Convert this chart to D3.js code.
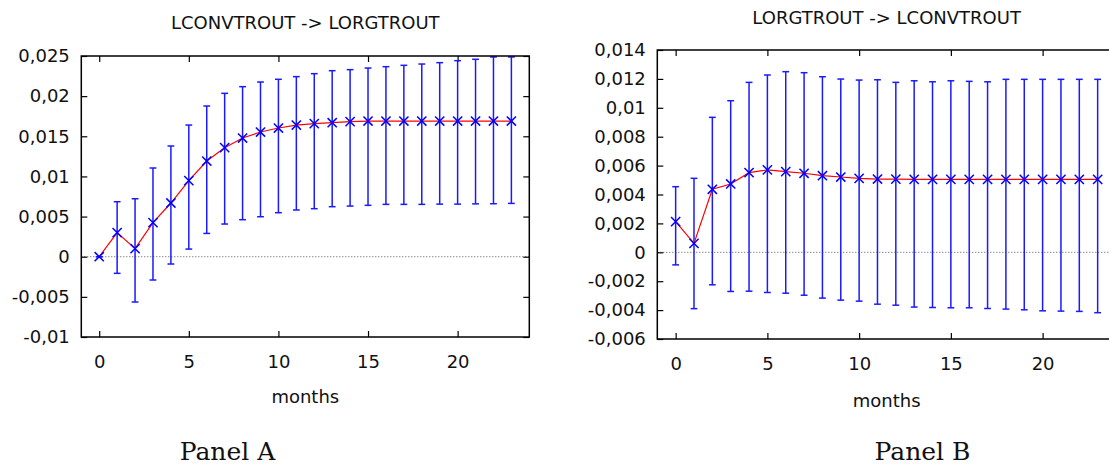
<!DOCTYPE html>
<html>
<head>
<meta charset="utf-8">
<script src="https://cdn.jsdelivr.net/npm/d3@7/dist/d3.min.js"></script>
<style>
  html, body { margin: 0; padding: 0; background: #fff; }
  svg { display: block; }
  text { font-family: "DejaVu Sans", Verdana, sans-serif; fill: #111; }
</style>
</head>
<body>
<svg id="chart" width="1109" height="466"></svg>
<script>
// ---- Data ----
const months = [0,1,2,3,4,5,6,7,8,9,10,11,12,13,14,15,16,17,18,19,20,21,22,23];
const xTickValues = [0, 5, 10, 15, 20];
const xTickLabels = ["0", "5", "10", "15", "20"];

// Panel A: LCONVTROUT -> LORGTROUT
const titleA = "LCONVTROUT -> LORGTROUT";
const responseA = [0, 0.003, 0.001, 0.00424, 0.00669, 0.00947, 0.01192, 0.01358, 0.01478, 0.01553, 0.01603, 0.0164,
                   0.01657, 0.01669, 0.01682, 0.0169, 0.0169, 0.0169, 0.0169, 0.0169, 0.0169, 0.0169, 0.0169, 0.0169];
const upperA = [0, 0.00685, 0.00722, 0.01105, 0.01379, 0.0164, 0.01877, 0.02035, 0.02118, 0.02176, 0.0221, 0.02243,
                0.0228, 0.02317, 0.0233, 0.0235, 0.02367, 0.02384, 0.024, 0.02417, 0.02442, 0.02459, 0.02488, 0.02488];
const lowerA = [0, -0.00207, -0.00564, -0.0029, -0.00091, 0.00095, 0.0029, 0.00407, 0.00461, 0.00498, 0.00548, 0.00582,
                0.00598, 0.00623, 0.00631, 0.0064, 0.00652, 0.00652, 0.00652, 0.00655, 0.00655, 0.00658, 0.0066, 0.00664];
const yTickValuesA = [-0.01, -0.005, 0, 0.005, 0.01, 0.015, 0.02, 0.025];
const yTickLabelsA = ["-0,01", "-0,005", "0", "0,005", "0,01", "0,015", "0,02", "0,025"];

// Panel B: LORGTROUT -> LCONVTROUT
const titleB = "LORGTROUT -> LCONVTROUT";
const responseB = [0.00212, 0.00062, 0.00436, 0.00473, 0.00551, 0.0057, 0.00558, 0.00547, 0.0053, 0.00521, 0.00512, 0.00507,
                   0.00506, 0.00505, 0.00505, 0.00505, 0.00505, 0.00505, 0.00505, 0.00505, 0.00505, 0.00505, 0.00505, 0.00505];
const upperB = [0.00454, 0.00512, 0.00934, 0.01049, 0.01176, 0.01227, 0.0125, 0.01243, 0.01215, 0.01199, 0.01192, 0.01194,
                0.01176, 0.01187, 0.0118, 0.01187, 0.01183, 0.0118, 0.01197, 0.01197, 0.01197, 0.01197, 0.01197, 0.01197];
const lowerB = [-0.00087, -0.0039, -0.00225, -0.00271, -0.00269, -0.00278, -0.00283, -0.00297, -0.00317, -0.00331, -0.00338, -0.00359,
                -0.00366, -0.00379, -0.00382, -0.00384, -0.00384, -0.00389, -0.00393, -0.00398, -0.00405, -0.00407, -0.00409, -0.00418];
const yTickValuesB = [-0.006, -0.004, -0.002, 0, 0.002, 0.004, 0.006, 0.008, 0.01, 0.012, 0.014];
const yTickLabelsB = ["-0,006", "-0,004", "-0,002", "0", "0,002", "0,004", "0,006", "0,008", "0,01", "0,012", "0,014"];

const xLabel = "months";
const panelLabels = ["Panel A", "Panel B"];

// ---- Drawing ----
const svg = d3.select("#chart");

function drawPanel(cfg) {
  const x = d3.scaleLinear().domain([-1, 24]).range([cfg.left, cfg.right]);
  const y = d3.scaleLinear().domain(cfg.yDomain).range([cfg.bottom, cfg.top]);
  const g = svg.append("g");
  const fs = 18;

  // zero line (dotted)
  g.append("line")
    .attr("x1", cfg.left).attr("x2", cfg.right)
    .attr("y1", y(0)).attr("y2", y(0))
    .attr("stroke", "#555").attr("stroke-width", 1)
    .attr("stroke-dasharray", "1,2");

  // axes (inward ticks)
  const fmtY = v => cfg.yLabels[cfg.yTicks.indexOf(v)];
  const fmtX = v => xTickLabels[xTickValues.indexOf(v)];

  const axL = g.append("g").attr("transform", `translate(${cfg.left},0)`)
    .call(d3.axisLeft(y).tickValues(cfg.yTicks).tickFormat(fmtY).tickSizeInner(-6).tickSizeOuter(0).tickPadding(11.5));
  const axR = g.append("g").attr("transform", `translate(${cfg.right},0)`)
    .call(d3.axisRight(y).tickValues(cfg.yTicks).tickFormat("").tickSizeInner(-6).tickSizeOuter(0));
  const axB = g.append("g").attr("transform", `translate(0,${cfg.bottom})`)
    .call(d3.axisBottom(x).tickValues(xTickValues).tickFormat(fmtX).tickSizeInner(-6).tickSizeOuter(0).tickPadding(18));
  const axT = g.append("g").attr("transform", `translate(0,${cfg.top})`)
    .call(d3.axisTop(x).tickValues(xTickValues).tickFormat("").tickSizeInner(-6).tickSizeOuter(0));
  [axL, axR, axB, axT].forEach(a => {
    a.select(".domain").remove();
    a.selectAll(".tick line").attr("stroke", "#000").attr("stroke-width", 1.2);
    a.selectAll(".tick text").style("font-family", '"DejaVu Sans", Verdana, sans-serif')
      .style("font-size", fs + "px").attr("fill", "#111");
  });

  // error bars
  const eb = g.append("g").attr("stroke", "#1a1aff").attr("stroke-width", 1.5).attr("fill", "none");
  months.forEach((m, i) => {
    const cx = x(m);
    eb.append("line").attr("x1", cx).attr("x2", cx).attr("y1", y(cfg.lo[i])).attr("y2", y(cfg.hi[i]));
    eb.append("line").attr("x1", cx - 3.4).attr("x2", cx + 3.4).attr("y1", y(cfg.lo[i])).attr("y2", y(cfg.lo[i]));
    eb.append("line").attr("x1", cx - 3.4).attr("x2", cx + 3.4).attr("y1", y(cfg.hi[i])).attr("y2", y(cfg.hi[i]));
  });

  // response line
  const line = d3.line().x((d, i) => x(months[i])).y(d => y(d));
  g.append("path").datum(cfg.resp).attr("d", line)
    .attr("fill", "none").attr("stroke", "#ff0000").attr("stroke-width", 1.2);

  // X markers
  const mk = g.append("g").attr("stroke", "#0000ff").attr("stroke-width", 1.5);
  const s = 4.6;
  cfg.resp.forEach((v, i) => {
    const cx = x(months[i]), cy = y(v);
    mk.append("line").attr("x1", cx - s).attr("y1", cy - s).attr("x2", cx + s).attr("y2", cy + s);
    mk.append("line").attr("x1", cx - s).attr("y1", cy + s).attr("x2", cx + s).attr("y2", cy - s);
  });

  // frame
  g.append("rect")
    .attr("x", cfg.left).attr("y", cfg.top)
    .attr("width", cfg.right - cfg.left).attr("height", cfg.bottom - cfg.top)
    .attr("fill", "none").attr("stroke", "#000").attr("stroke-width", 1.5);

  // title
  g.append("text").attr("x", (cfg.left + cfg.right) / 2).attr("y", cfg.titleY)
    .attr("text-anchor", "middle").style("font-size", fs + "px").text(cfg.title);

  // x label
  g.append("text").attr("x", (cfg.left + cfg.right) / 2).attr("y", cfg.xLabelY)
    .attr("text-anchor", "middle").style("font-size", fs + "px").text(xLabel);

  // panel label
  g.append("text").attr("x", cfg.panelX).attr("y", 459.5)
    .attr("text-anchor", "middle")
    .style("font-family", '"DejaVu Serif", "Liberation Serif", serif')
    .style("font-size", "25px").text(cfg.panel);
}

drawPanel({
  left: 81.3, right: 529.3, top: 56, bottom: 337,
  yDomain: [-0.01, 0.025], yTicks: yTickValuesA, yLabels: yTickLabelsA,
  resp: responseA, hi: upperA, lo: lowerA,
  title: titleA, titleY: 29, xLabelY: 403,
  panel: panelLabels[0], panelX: 227.5
});

drawPanel({
  left: 657.3, right: 1116, top: 50, bottom: 339,
  yDomain: [-0.006, 0.014], yTicks: yTickValuesB, yLabels: yTickLabelsB,
  resp: responseB, hi: upperB, lo: lowerB,
  title: titleB, titleY: 23.5, xLabelY: 406.5,
  panel: panelLabels[1], panelX: 922.5
});
</script>
</body>
</html>
